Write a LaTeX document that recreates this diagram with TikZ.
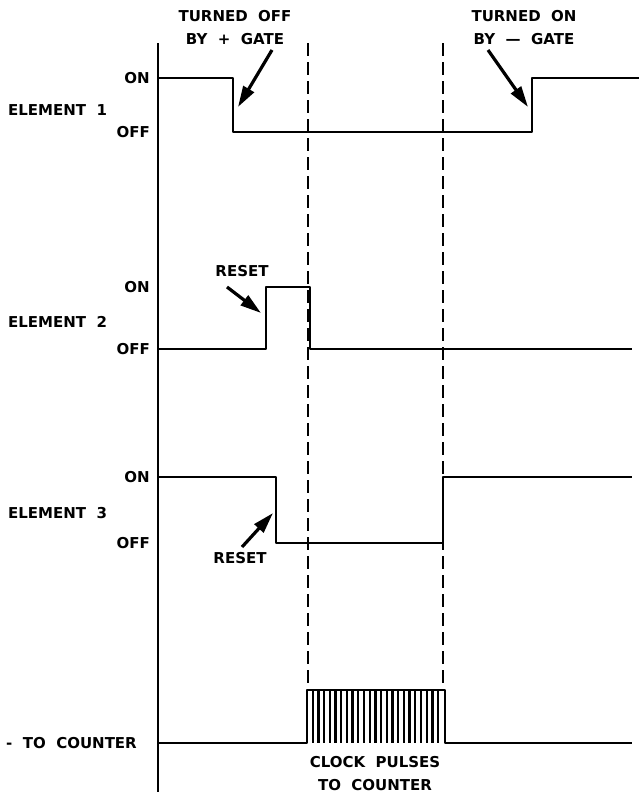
\documentclass[tikz,border=0pt]{standalone}
\usepackage{fontspec}
\setmainfont{DejaVu Sans}
\usetikzlibrary{arrows.meta,positioning}
\tikzset{
  wave/.style={line width=2.8pt,line join=round},
  axis/.style={line width=2pt},
  guide/.style={line width=1.8pt,dash pattern=on 13pt off 6pt},
  lbl/.style={font=\fontsize{15}{23}\selectfont\bfseries,inner sep=0pt},
  pointer/.style={-{Triangle[length=21pt,width=12pt]},line width=3.2pt},
  pulse/.style={line width=2.3pt},
}

\begin{document}
\begin{tikzpicture}[x=1pt,y=-1pt]
  \useasboundingbox (0,0) rectangle (639,795);

  % Time axis and guide lines
  \draw[axis] (158,43) -- (158,792);
  \draw[guide] (308,43) -- (308,690);
  \draw[guide] (443,43) -- (443,690);

  % Element 1
  \node[lbl, anchor=west] (elem1) at (8,110) {ELEMENT\ \ 1};
  \node[lbl, anchor=east] (on1) at (150,78) {ON};
  \node[lbl, anchor=east] (off1) at (150,132) {OFF};
  \draw[wave] (158,78) -- (233,78) -- (233,132) -- (532,132) -- (532,78) -- (639,78);

  % Element 2
  \node[lbl, anchor=west] (elem2) at (8,322) {ELEMENT\ \ 2};
  \node[lbl, anchor=east] (on2) at (150,287) {ON};
  \node[lbl, anchor=east] (off2) at (150,349) {OFF};
  \draw[wave] (158,349) -- (266,349) -- (266,287) -- (310,287) -- (310,349) -- (632,349);

  % Element 3
  \node[lbl, anchor=west] (elem3) at (8,513) {ELEMENT\ \ 3};
  \node[lbl, anchor=east] (on3) at (150,477) {ON};
  \node[lbl, anchor=east] (off3) at (150,543) {OFF};
  \draw[wave] (158,477) -- (276,477) -- (276,543) -- (443,543) -- (443,477) -- (632,477);

  % Clock pulses
  \node[lbl, anchor=east] (count) at (137,743) {-\ \ TO\ \ COUNTER};
  \draw[wave] (158,743) -- (307,743) -- (307,690) -- (445,690) -- (445,743) -- (632,743);
  \foreach \i in {1,...,23}
    \draw[pulse] (307+\i*5.7,690) -- (307+\i*5.7,743);
  \node[lbl, align=center] (clocknote) at (375,774) {CLOCK\ \ PULSES\\TO\ \ COUNTER};

  % Notes and pointers
  \node[lbl, align=center] (offnote) at (235,28) {TURNED\ \ OFF\\BY\ \ +\ \ GATE};
  \node[lbl, align=center] (onnote) at (524,28) {TURNED\ \ ON\\BY\ \ ---\ \ GATE};
  \node[lbl] (reset2) at (242,271) {RESET};
  \node[lbl] (reset3) at (240,558) {RESET};
  \coordinate (tail1) at (272,50);
  \coordinate (tip1) at (238,107);
  \coordinate (tail2) at (488,50);
  \coordinate (tip2) at (528,107);
  \coordinate (tail3) at (227,287);
  \coordinate (tip3) at (261,313);
  \coordinate (tail4) at (242,547);
  \coordinate (tip4) at (273,513);
  \draw[pointer] (tail1) -- (tip1);
  \draw[pointer] (tail2) -- (tip2);
  \draw[pointer] (tail3) -- (tip3);
  \draw[pointer] (tail4) -- (tip4);
\end{tikzpicture}
\end{document}
